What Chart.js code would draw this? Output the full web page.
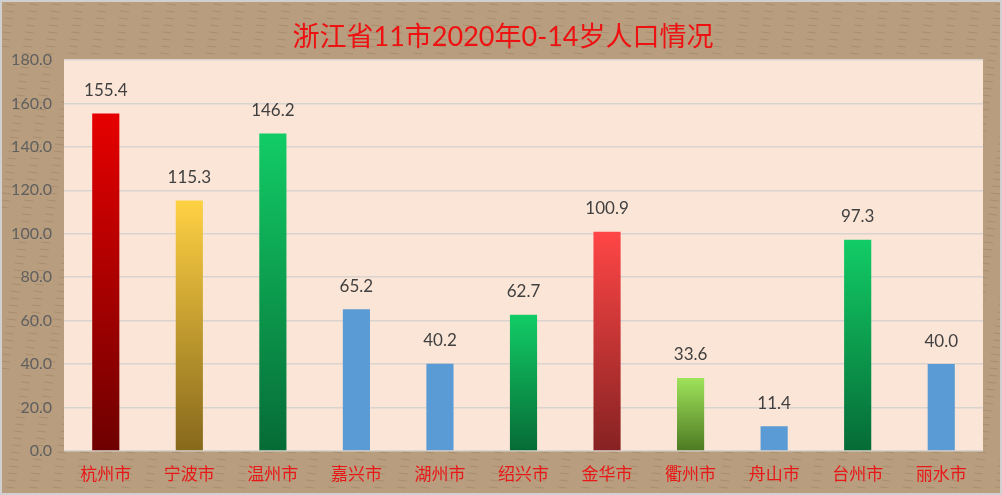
<!DOCTYPE html>
<html>
<head>
<meta charset="utf-8">
<script src="https://cdn.jsdelivr.net/npm/chart.js@4.4.0/dist/chart.umd.min.js"></script>
<style>
  html, body { margin: 0; padding: 0; background: #b89e7f; }
  #wrap { width: 1002px; height: 495px; position: relative; }
</style>
</head>
<body>
<div id="wrap"><canvas id="chart1" width="1002" height="495"></canvas></div>
<script>
let cities = ['杭州市', '宁波市', '温州市', '嘉兴市', '湖州市', '绍兴市', '金华市', '衢州市', '舟山市', '台州市', '丽水市'];
let children = [155.4, 115.3, 146.2, 65.2, 40.2, 62.7, 100.9, 33.6, 11.4, 97.3, 40.0];
let yTicks = [0, 20, 40, 60, 80, 100, 120, 140, 160, 180];
let titleText = '浙江省11市2020年0-14岁人口情况';

// bar colours, top and bottom of each gradient
let topColors = ['#e60000', '#ffd143', '#12cc66', '#5b9bd5', '#5b9bd5', '#12cc66', '#ff4646', '#9ee35a', '#5b9bd5', '#12cc66', '#5b9bd5'];
let bottomColors = ['#6e0000', '#86681c', '#066b36', '#5b9bd5', '#5b9bd5', '#066b36', '#862222', '#4d7a22', '#5b9bd5', '#066b36', '#5b9bd5'];

let numFont = "Lato, 'Noto Sans CJK SC', sans-serif";
let cjkFont = "'Noto Sans CJK SC', sans-serif";

let backgroundPlugin = {
    id: 'bg',
    beforeDraw(chart) {
        let c = chart.ctx, a = chart.chartArea;
        c.save();
        c.fillStyle = '#b89e7f';
        c.fillRect(0, 0, chart.width, chart.height);
        // faint texture streaks
        c.strokeStyle = 'rgba(120,95,65,0.25)';
        c.lineWidth = 1;
        for (let y = 4; y < chart.height; y += 7) {
            for (let x = (y * 13) % 23; x < chart.width; x += 23) {
                c.beginPath();
                c.moveTo(x, y);
                c.lineTo(x + 9, y + 1);
                c.stroke();
            }
        }
        c.strokeStyle = '#d0d0d0';
        c.lineWidth = 2;
        c.strokeRect(1, 1, chart.width - 2, chart.height - 2);
        c.fillStyle = '#fbe5d6';
        c.fillRect(a.left, a.top, a.right - a.left, a.bottom - a.top);
        c.restore();
    },
    afterDraw(chart) {
        let c = chart.ctx;
        c.save();
        c.fillStyle = '#ee1111';
        c.font = '27px ' + numFont;
        c.textAlign = 'center';
        c.textBaseline = 'middle';
        c.fillText(titleText, 503, 37);
        c.restore();
    }
};

let valueLabels = {
    id: 'valueLabels',
    afterDatasetsDraw(chart) {
        let c = chart.ctx;
        let meta = chart.getDatasetMeta(0);
        c.save();
        c.fillStyle = '#404040';
        c.font = '17px ' + numFont;
        c.textAlign = 'center';
        c.textBaseline = 'middle';
        meta.data.forEach((bar, i) => {
            c.fillText(children[i].toFixed(1), bar.x, bar.y - 23);
        });
        c.restore();
    }
};

function barColor(context) {
    let chart = context.chart;
    let i = context.dataIndex;
    if (!chart.chartArea) return topColors[i];
    let y = chart.scales.y;
    let top = y.getPixelForValue(children[i]);
    let base = y.getPixelForValue(0);
    let g = chart.ctx.createLinearGradient(0, top, 0, base);
    g.addColorStop(0, topColors[i]);
    g.addColorStop(1, bottomColors[i]);
    return g;
}

let ctx1 = document.getElementById('chart1').getContext('2d');
let chart = new Chart(ctx1, {
    type: 'bar',
    data: {
        labels: cities,
        datasets: [{
            label: '0-14岁人口',
            data: children,
            backgroundColor: barColor,
            barPercentage: 0.65,
            categoryPercentage: 0.5
        }]
    },
    options: {
        responsive: false,
        animation: false,
        devicePixelRatio: 1,
        layout: { padding: { top: 60, right: 19, left: 0, bottom: 0 } },
        plugins: { legend: { display: false }, tooltip: { enabled: false }, title: { display: false } },
        scales: {
            x: {
                grid: { display: false },
                border: { display: false },
                ticks: { color: '#e81818', font: { family: cjkFont, size: 17 }, padding: 4 },
                afterFit: s => { s.height = 44; }
            },
            y: {
                min: 0,
                max: 180,
                afterBuildTicks: s => { s.ticks = yTicks.map(v => ({ value: v })); },
                grid: { color: '#d9d4d0', lineWidth: 1.5, drawTicks: false },
                border: { display: false },
                ticks: {
                    color: '#5f5f5f',
                    font: { family: numFont, size: 16 },
                    padding: 12,
                    callback: v => v.toFixed(1)
                },
                afterFit: s => { s.width = 64; }
            }
        }
    },
    plugins: [backgroundPlugin, valueLabels]
});
</script>
</body>
</html>
